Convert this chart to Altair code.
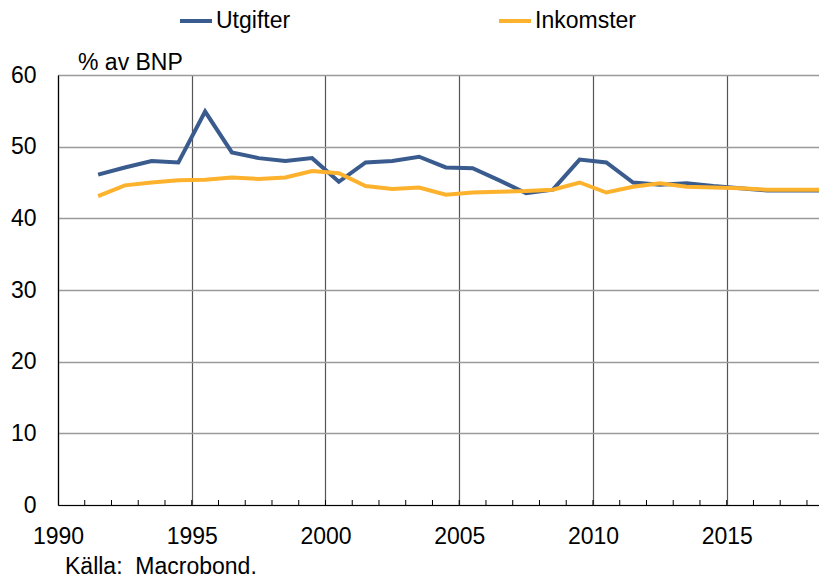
import altair as alt
import pandas as pd

years = list(range(1991, 2019))
utgifter = [46.1, 47.1, 48.0, 47.8, 54.9, 49.2, 48.4, 48.0, 48.4, 45.1,
            47.8, 48.0, 48.6, 47.1, 47.0, 45.3, 43.5, 44.0, 48.2, 47.8,
            45.0, 44.7, 44.9, 44.5, 44.2, 43.9, 43.9, 43.9]
inkomster = [43.1, 44.6, 45.0, 45.3, 45.4, 45.7, 45.5, 45.7, 46.6, 46.3,
             44.5, 44.1, 44.3, 43.3, 43.6, 43.7, 43.8, 44.0, 45.0, 43.6,
             44.4, 44.9, 44.4, 44.3, 44.2, 44.0, 44.0, 44.0]
series_names = ["Utgifter", "Inkomster"]
series_colors = ["#3A5B8E", "#FDB22E"]
x_labels = [1990, 1995, 2000, 2005, 2010, 2015]
y_labels = [0, 10, 20, 30, 40, 50, 60]
minor_years = list(range(1991, 2019))

rows = []
for y, u, i in zip(years, utgifter, inkomster):
    rows.append({"year": y + 0.5, "value": u, "serie": "Utgifter"})
    rows.append({"year": y + 0.5, "value": i, "serie": "Inkomster"})
df = pd.DataFrame(rows)
minor_df = pd.DataFrame({"year": minor_years})

FONT = "Liberation Sans"
FS = 23
W, H = 761, 430

xscale = alt.Scale(domain=[1990, 2018.45], nice=False, zero=False)
yscale = alt.Scale(domain=[0, 60], nice=False)

lines = alt.Chart(df).mark_line(strokeWidth=4, clip=True).encode(
    x=alt.X("year:Q", scale=xscale,
            axis=alt.Axis(values=x_labels, format="d", title=None, grid=True,
                          gridColor="#555555", gridWidth=1.2, ticks=False,
                          domainColor="#000000", domainWidth=1.2,
                          labelFontSize=FS, labelFont=FONT, labelColor="#000000",
                          labelPadding=20, labelFlush=False)),
    y=alt.Y("value:Q", scale=yscale,
            axis=alt.Axis(values=y_labels, title=None, grid=True,
                          gridColor="#9a9a9a", gridWidth=1.5, ticks=False,
                          domainColor="#000000", domainWidth=1.2,
                          labelFontSize=FS, labelFont=FONT, labelColor="#000000",
                          labelPadding=22)),
    color=alt.Color("serie:N", sort=series_names,
                    scale=alt.Scale(domain=series_names, range=series_colors),
                    legend=alt.Legend(title=None, orient="none", direction="horizontal",
                                      legendX=120, legendY=-72,
                                      symbolType="stroke", symbolStrokeWidth=4,
                                      symbolSize=1024, labelFontSize=FS,
                                      labelFont=FONT, labelColor="#000000",
                                      columnPadding=200, labelOffset=2, padding=0)),
    order=alt.Order("year:Q"),
)

minor = alt.Chart(minor_df).mark_rule(color="#000000", strokeWidth=1).encode(
    x=alt.X("year:Q", scale=xscale),
    y=alt.value(H),
    y2=alt.value(H - 5),
)

unit = alt.Chart(pd.DataFrame({"t": ["% av BNP"]})).mark_text(
    font=FONT, fontSize=FS, align="left", baseline="alphabetic", color="#000000"
).encode(text="t:N", x=alt.value(20), y=alt.value(-5))

source = alt.Chart(pd.DataFrame({"t": ["Källa:\u00a0 Macrobond."]})).mark_text(
    font=FONT, fontSize=FS, align="left", baseline="alphabetic", color="#000000"
).encode(text="t:N", x=alt.value(7), y=alt.value(H + 69))

chart = alt.layer(minor, lines, unit, source).properties(
    width=W, height=H,
    autosize=alt.AutoSizeParams(type="none"),
    padding={"left": 50, "top": 67, "right": 0, "bottom": 73},
).configure_view(stroke=None)

chart.save("out.html", embed_options={"renderer": "svg", "actions": False})
